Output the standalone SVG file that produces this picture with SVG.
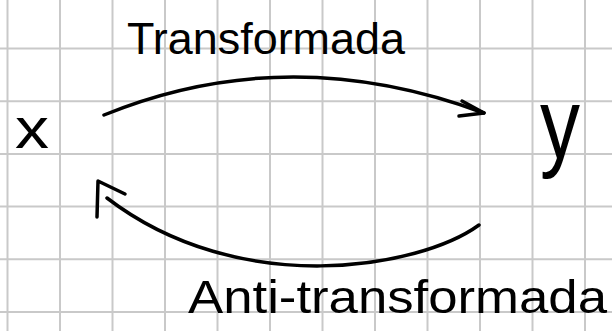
<svg xmlns="http://www.w3.org/2000/svg" width="612" height="331" viewBox="0 0 612 331">
<style>
.grid line{stroke:#c9c9c9;stroke-width:2}
.pen{fill:none;stroke:#000;stroke-width:3.5;stroke-linecap:round;stroke-linejoin:round}
.hand{font-family:"Liberation Sans",Arial,sans-serif;fill:#000}
</style>
<rect width="612" height="331" fill="#fff"/>
<g class="grid">
<line x1="7.5" y1="0" x2="7.5" y2="331"/>
<line x1="60" y1="0" x2="60" y2="331"/>
<line x1="112.5" y1="0" x2="112.5" y2="331"/>
<line x1="165" y1="0" x2="165" y2="331"/>
<line x1="217.5" y1="0" x2="217.5" y2="331"/>
<line x1="270" y1="0" x2="270" y2="331"/>
<line x1="322.5" y1="0" x2="322.5" y2="331"/>
<line x1="375" y1="0" x2="375" y2="331"/>
<line x1="427.5" y1="0" x2="427.5" y2="331"/>
<line x1="480" y1="0" x2="480" y2="331"/>
<line x1="532.5" y1="0" x2="532.5" y2="331"/>
<line x1="585" y1="0" x2="585" y2="331"/>
<line x1="0" y1="48.5" x2="612" y2="48.5"/>
<line x1="0" y1="101.2" x2="612" y2="101.2"/>
<line x1="0" y1="153.9" x2="612" y2="153.9"/>
<line x1="0" y1="206.6" x2="612" y2="206.6"/>
<line x1="0" y1="259.3" x2="612" y2="259.3"/>
<line x1="0" y1="312" x2="612" y2="312"/>
</g>
<g id="node-x">
<text class="hand" x="15" y="148" font-size="58" textLength="34" lengthAdjust="spacingAndGlyphs">x</text>
</g>
<g id="node-y">
<text class="hand" x="540" y="158" font-size="100" textLength="40" lengthAdjust="spacingAndGlyphs">y</text>
</g>
<g id="connectors">
<path class="pen" d="M104,115 Q288,40 484,113"/>
<path class="pen" d="M462,101 L484,113 L459,116"/>
<path class="pen" d="M479,225 C420,268 240,300 107,198"/>
<path class="pen" d="M97,217 L98,181 L125,194"/>
</g>
<g id="labels">
<text class="hand" x="127" y="54" font-size="44" textLength="278" lengthAdjust="spacingAndGlyphs">Transformada</text>
<text class="hand" x="188" y="313" font-size="46" textLength="419" lengthAdjust="spacingAndGlyphs">Anti-transformada</text>
</g>
</svg>
